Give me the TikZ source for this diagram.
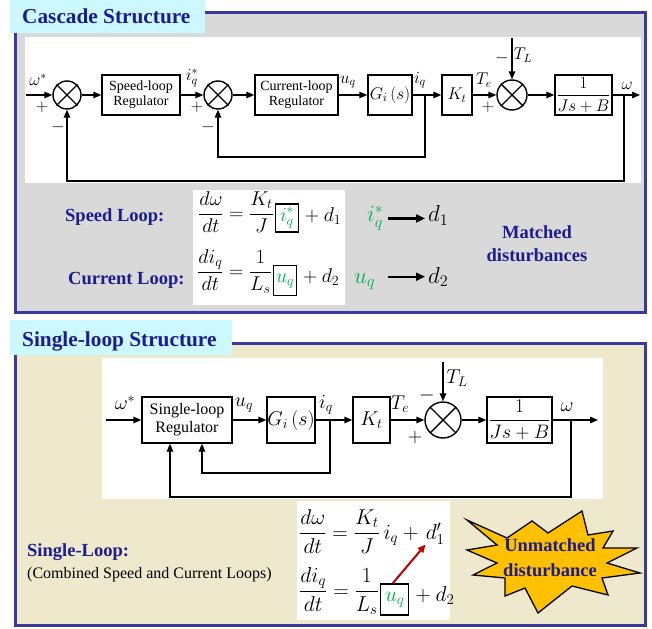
\RequirePackage{fix-cm}
\documentclass[tikz,border=0pt]{standalone}
\usepackage{amsmath}
\usepackage{fontspec}
\setmainfont{Liberation Serif}
\usetikzlibrary{arrows.meta,calc}
\definecolor{navy}{HTML}{1C1C8E}
\definecolor{framec}{HTML}{3A3A9E}
\definecolor{cyanbg}{HTML}{CCF8FF}
\definecolor{graybg}{HTML}{D9D9D9}
\definecolor{beigebg}{HTML}{EEE9CC}
\definecolor{eqgreen}{HTML}{00B050}
\definecolor{starc}{HTML}{FFC000}
\definecolor{arrred}{HTML}{C00000}
\newcommand\fsz[2]{\fontsize{#1}{#2}\selectfont}
\begin{document}
\begin{tikzpicture}[x=1pt,y=-1pt,
 ln/.style={line width=1.4pt},
 arr/.style={line width=1.4pt,-{Triangle[length=8pt,width=6.5pt]}},
 blk/.style={draw,line width=1.4pt,fill=white,inner sep=0pt,align=center},
 sumc/.style={draw,circle,line width=1.4pt,inner sep=0pt,minimum size=#1},
 lt/.style={inner sep=0pt,font=\fsz{17}{17}},
 lb/.style={inner sep=0pt,font=\fsz{20}{20}},
 ttl/.style={inner sep=0pt,anchor=base west,text=navy,font=\fsz{21.3}{24}\bfseries},
 lab/.style={inner sep=0pt,text=navy,font=\fsz{18.5}{23}\bfseries},
 eqt/.style={inner sep=0pt,anchor=base west,font=\fsz{20}{22}},
 eqb/.style={inner sep=0pt,anchor=base west,font=\fsz{21.5}{24}},
 gbox/.style={draw,line width=1.4pt,inner sep=0pt,anchor=base west,text=eqgreen},
 bigarr/.style={line width=2.2pt,-{Triangle[length=9pt,width=8pt]}},
]
\useasboundingbox (0,0) rectangle (652,628);
\fill[white] (0,0) rectangle (652,628);

% ================= TOP PANEL =================
\draw[framec,line width=3pt,fill=graybg] (15,13) rectangle (645,312);
\fill[cyanbg] (10,0) rectangle (205,33);
\node[ttl] (t1) at (22,24) {Cascade Structure};
\fill[white] (25,37) rectangle (641,183);

\coordinate (in1) at (26,95);
\node[sumc=28pt] (s1) at (67,95) {};
\node[blk,minimum width=78pt,minimum height=40pt,font=\fsz{14}{15}] (r1) at (141,95) {Speed-loop\\Regulator};
\node[sumc=28pt] (s2) at (218,95) {};
\node[blk,minimum width=83pt,minimum height=40pt,font=\fsz{14}{15}] (r2) at (296.5,95) {Current-loop\\Regulator};
\node[blk,minimum width=44pt,minimum height=40pt,font=\fsz{17}{17}] (g1) at (390,95) {$G_i\left(s\right)$};
\node[blk,minimum width=30pt,minimum height=40pt,font=\fsz{17}{17}] (k1) at (457,95) {$K_t$};
\node[sumc=30pt] (s3) at (512,95) {};
\node[blk,minimum width=57pt,minimum height=40pt,font=\fsz{17}{17}] (p1) at (583.5,95) {$\dfrac{1}{Js+B}$};
\coordinate (tl1) at (512,38);
\coordinate (b1) at (425,95);
\coordinate (b2) at (624,95);
\coordinate (out1) at (640,95);

\foreach \s in {s1,s2,s3}
  \draw[ln] (\s.north west) -- (\s.south east) (\s.north east) -- (\s.south west);

\draw[arr] (in1) -- (s1);
\draw[arr] (s1) -- (r1);
\draw[arr] (r1) -- (s2);
\draw[arr] (s2) -- (r2);
\draw[arr] (r2) -- (g1);
\draw[arr] (g1) -- (k1);
\draw[arr] (k1) -- (s3);
\draw[arr] (s3) -- (p1);
\draw[arr] (p1) -- (out1);
\draw[arr] (tl1) -- (s3);
\draw[arr] (b1) -- ++(0,62) -| (s2.south);
\draw[arr] (b2) -- ++(0,86) -| (s1.south);

\node[lt] (l1) at (38,80) {$\omega^*$};
\node[lt] (l2) at (42,107) {$+$};
\node[lt] (l3) at (58,127) {$-$};
\node[lt] (l4) at (192,78) {$i_q^*$};
\node[lt] (l5) at (197,107) {$+$};
\node[lt] (l6) at (208,127) {$-$};
\node[lt] (l7) at (348,82) {$u_q$};
\node[lt] (l8) at (420,80) {$i_q$};
\node[lt] (l9) at (484,80) {$T_e$};
\node[lt] (l10) at (488,107) {$+$};
\node[lt] (l11) at (523,55) {$T_L$};
\node[lt] (l12) at (502,58) {$-$};
\node[lt] (l13) at (627,86) {$\omega$};

% equations top
\fill[white] (193,190) rectangle (345,305);
\node[lab,anchor=base west] (sl) at (65,222) {Speed Loop:};
\node[lab,anchor=base west] (cl) at (68,284) {Current Loop:};

\node[eqt] (e1a) at (198,219) {$\dfrac{d\omega}{dt}=\dfrac{K_t}{J}$};
\node[gbox,font=\fsz{20}{22},minimum width=23pt,minimum height=28pt] (e1b) at ([xshift=1pt,yshift=-2pt]e1a.base east) {$i_q^*$};
\node[eqt] (e1c) at ([xshift=1pt]e1b.base east) {${}+d_1$};

\node[eqt] (e2a) at (197,277) {$\dfrac{di_q}{dt}=\dfrac{1}{L_s}$};
\node[gbox,font=\fsz{20}{22},minimum width=23pt,minimum height=30pt] (e2b) at ([xshift=1pt,yshift=-5pt]e2a.base east) {$u_q$};
\node[eqt] (e2c) at ([xshift=1pt]e2b.base east) {${}+d_2$};

\node[eqt,font=\fsz{23}{24},text=eqgreen] (m1) at (367,222) {$i_q^*$};
\node[eqt,font=\fsz{23}{24}] (m2) at (428,222) {$d_1$};
\draw[bigarr] ([xshift=4pt]m1.east) -- ([xshift=-3pt]m1.east -| m2.west);
\node[eqt,font=\fsz{23}{24},text=eqgreen] (m3) at (354,283) {$u_q$};
\node[eqt,font=\fsz{23}{24}] (m4) at (428,283) {$d_2$};
\draw[bigarr] ([xshift=4pt]m4.west -| m1.east) -- ([xshift=-3pt]m4.west);

\node[lab,align=center] (md) at (537,244) {Matched\\disturbances};

% ================= BOTTOM PANEL =================
\draw[framec,line width=3pt,fill=beigebg] (15,343) rectangle (645,625);
\fill[cyanbg] (10,320) rectangle (232,355);
\node[ttl] (t2) at (22,346) {Single-loop Structure};
\fill[white] (102,358) rectangle (603,499);

\coordinate (in2) at (106,420);
\node[blk,minimum width=90pt,minimum height=46pt,font=\fsz{16}{18}] (r3) at (187,420) {Single-loop\\Regulator};
\node[blk,minimum width=48pt,minimum height=46pt,font=\fsz{20}{20}] (g2) at (291,420) {$G_i\left(s\right)$};
\node[blk,minimum width=37pt,minimum height=46pt,font=\fsz{20}{20}] (k2) at (371.5,420) {$K_t$};
\node[sumc=36pt] (s4) at (443,420) {};
\node[blk,minimum width=65pt,minimum height=46pt,font=\fsz{19.5}{20}] (p2) at (519.5,420) {$\dfrac{1}{Js+B}$};
\coordinate (tl2) at (443,362);
\coordinate (b3) at (330,420);
\coordinate (b4) at (571,420);
\coordinate (out2) at (598,420);

\draw[ln] (s4.north west) -- (s4.south east) (s4.north east) -- (s4.south west);

\draw[arr] (in2) -- (r3);
\draw[arr] (r3) -- (g2);
\draw[arr] (g2) -- (k2);
\draw[arr] (k2) -- (s4);
\draw[arr] (s4) -- (p2);
\draw[arr] (p2) -- (out2);
\draw[arr] (tl2) -- (s4);
\draw[arr] (b3) -- ++(0,53) -| ([xshift=15pt]r3.south);
\draw[arr] (b4) -- ++(0,77) -| ([xshift=-17pt]r3.south);

\node[lb] (n1) at (125,403) {$\omega^*$};
\node[lb] (n2) at (244,405) {$u_q$};
\node[lb] (n3) at (326,405) {$i_q$};
\node[lb] (n4) at (400,404) {$T_e$};
\node[lb] (n5) at (415,437) {$+$};
\node[lb] (n6) at (457,378) {$T_L$};
\node[lb] (n7) at (427,395) {$-$};
\node[lb] (n8) at (567,407) {$\omega$};

% equations bottom
\fill[white] (297,501) rectangle (450,620);
\node[lab,anchor=base west] (sg) at (27,556) {Single-Loop:};
\node[inner sep=0pt,anchor=base west,font=\fsz{16}{18}] (cb) at (27,578) {(Combined Speed and Current Loops)};

\node[eqb] (e3a) at (299,539) {$\dfrac{d\omega}{dt}=\dfrac{K_t}{J}\,i_q+{}$};
\node[eqb] (e3b) at ([xshift=2pt]e3a.base east) {$d_1'$};
\node[eqb] (e4a) at (299,597) {$\dfrac{di_q}{dt}=\dfrac{1}{L_s}$};
\node[gbox,font=\fsz{21.5}{24},minimum width=28pt,minimum height=31pt] (e4b) at ([xshift=1pt,yshift=-4pt]e4a.base east) {$u_q$};
\node[eqb] (e4c) at ([xshift=1pt]e4b.base east) {${}+d_2$};
\draw[arrred,line width=2pt,-{Triangle[length=8pt,width=7pt]}] ([xshift=-2pt]e4b.north) -- (e3b.south west);

% star
\filldraw[fill=starc,draw=black,line width=1.3pt,line join=miter]
 (467,520) -- (507,538) -- (532,521) -- (548,533) -- (582,511) -- (588,535)
 -- (613,531) -- (603,548) -- (637,548) -- (607,563) -- (640,573) -- (602,578)
 -- (608,595) -- (572,586) -- (538,613) -- (525,588) -- (505,596) -- (505,578)
 -- (473,575) -- (497,563) -- (467,550) -- (497,545) -- cycle;
\node[lab,align=center,font=\fsz{18.5}{25}\bfseries] (um) at (550,558) {Unmatched\\disturbance};
\end{tikzpicture}
\end{document}
